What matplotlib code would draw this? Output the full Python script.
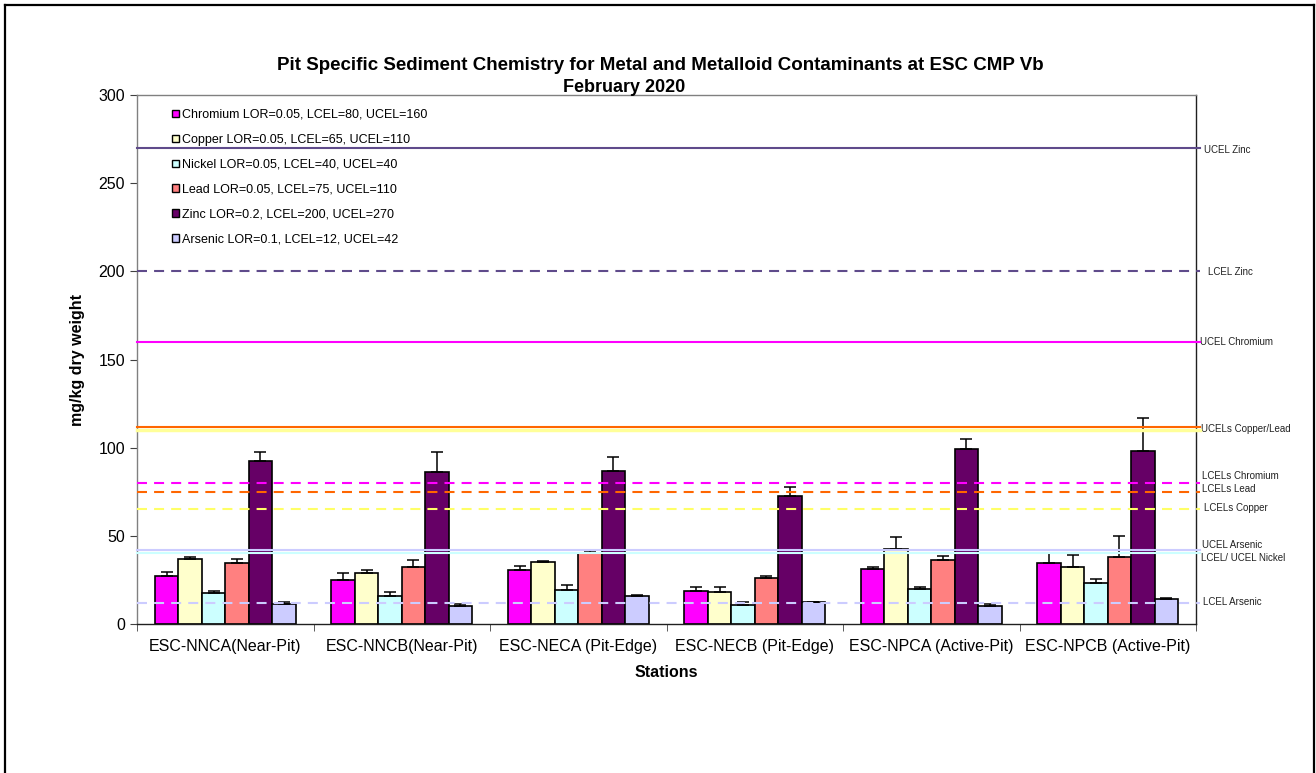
import matplotlib
matplotlib.use("Agg")
import matplotlib.pyplot as plt
import numpy as np
from matplotlib.lines import Line2D
from matplotlib.patches import Patch

plt.rcParams["font.family"] = ["Liberation Sans", "DejaVu Sans"]

STATIONS = [
    "ESC-NNCA(Near-Pit)",
    "ESC-NNCB(Near-Pit)",
    "ESC-NECA (Pit-Edge)",
    "ESC-NECB (Pit-Edge)",
    "ESC-NPCA (Active-Pit)",
    "ESC-NPCB (Active-Pit)",
]

METALS = ["Chromium", "Copper", "Nickel", "Lead", "Zinc", "Arsenic"]
LEGEND_LABELS = [
    "Chromium LOR=0.05, LCEL=80, UCEL=160",
    "Copper LOR=0.05, LCEL=65, UCEL=110",
    "Nickel LOR=0.05, LCEL=40, UCEL=40",
    "Lead LOR=0.05, LCEL=75, UCEL=110",
    "Zinc LOR=0.2, LCEL=200, UCEL=270",
    "Arsenic LOR=0.1, LCEL=12, UCEL=42",
]
BAR_COLORS = ["#ff00ff", "#ffffcc", "#ccffff", "#ff8080", "#660066", "#ccccff"]

# mean concentration per station (mg/kg), one list per metal
chromium = [27.4, 24.8, 30.4, 18.9, 31.4, 34.4]
copper = [37.0, 28.7, 35.0, 18.3, 42.4, 32.5]
nickel = [17.8, 15.9, 19.5, 10.8, 19.9, 23.4]
lead = [34.8, 32.3, 40.5, 26.1, 36.1, 38.0]
zinc = [92.4, 86.0, 87.0, 72.8, 99.1, 98.1]
arsenic = [11.5, 10.4, 15.9, 12.3, 10.4, 14.2]

# upper error (std dev) per station
chromium_err = [2.3, 3.9, 2.5, 1.9, 1.1, 6.0]
copper_err = [1.2, 2.1, 0.9, 2.9, 6.8, 6.4]
nickel_err = [1.1, 2.3, 2.4, 1.7, 0.9, 2.3]
lead_err = [1.9, 4.0, 1.0, 1.3, 2.3, 11.7]
zinc_err = [5.3, 11.4, 7.5, 4.9, 5.7, 18.6]
arsenic_err = [1.0, 1.1, 0.5, 0.4, 0.9, 0.4]

VALUES = [chromium, copper, nickel, lead, zinc, arsenic]
ERRORS = [chromium_err, copper_err, nickel_err, lead_err, zinc_err, arsenic_err]

# guideline levels as drawn: (value, colour, style, width)
GUIDES = [
    (270, "#5f4b8b", "solid", 1.5),
    (200, "#5f4b8b", "dashed", 1.5),
    (160, "#ff00ff", "solid", 1.5),
    (110, "#ffff99", "solid", 2.5),
    (111.5, "#ff6600", "solid", 1.5),
    (80, "#ff00ff", "dashed", 1.5),
    (75, "#ff6600", "dashed", 1.5),
    (65, "#ffff66", "dashed", 1.5),
    (40, "#ccffff", "solid", 1.5),
    (42, "#ccccff", "solid", 1.5),
    (12, "#ccccff", "dashed", 1.5),
]

GUIDE_LABELS = [
    ("UCEL Zinc", 268.8, 1.008),
    ("LCEL Zinc", 199.8, 1.011),
    ("UCEL Chromium", 160.1, 1.004),
    ("UCELs Copper/Lead", 110.6, 1.005),
    ("LCELs Chromium", 84.1, 1.006),
    ("LCELs Lead", 76.4, 1.006),
    ("LCELs Copper", 66.0, 1.008),
    ("UCEL Arsenic", 44.8, 1.006),
    ("LCEL/ UCEL Nickel", 37.3, 1.005),
    ("LCEL Arsenic", 12.6, 1.007),
]

fig = plt.figure(figsize=(13.16, 7.73), dpi=100)
ax = fig.add_axes([137 / 1316, 149 / 773, 1059 / 1316, 529 / 773])

x = np.arange(len(STATIONS))
width = 0.133
for i, (vals, errs, col) in enumerate(zip(VALUES, ERRORS, BAR_COLORS)):
    pos = x + (i - 2.5) * width
    ax.bar(pos, vals, width, color=col, edgecolor="black", linewidth=1.2, zorder=2)
    ax.errorbar(pos, vals, yerr=[np.zeros(len(vals)), errs], fmt="none",
                ecolor="black", elinewidth=1.1, capsize=4, capthick=1.1, zorder=3)

for val, col, style, lw in GUIDES:
    ls = (0, (4.8, 3.4)) if style == "dashed" else "-"
    ax.axhline(val, xmin=0, xmax=1.004, color=col, linestyle=ls, linewidth=lw,
               zorder=4, clip_on=False)

for text, yv, xa in GUIDE_LABELS:
    ax.text(xa, yv, text, transform=ax.get_yaxis_transform(), fontsize=7,
            ha="left", va="center", color="#222222")

ax.set_xlim(-0.5, len(STATIONS) - 0.5)
ax.set_ylim(0, 300)
ax.set_yticks(np.arange(0, 301, 50))
ax.set_xticks(x)
ax.set_xticklabels(STATIONS, fontsize=11.5)
ax.set_xticks(np.arange(-0.5, len(STATIONS)), minor=True)
ax.tick_params(axis="x", which="major", length=0, pad=11)
ax.tick_params(axis="x", which="minor", length=5, direction="out", color="#404040")
ax.tick_params(axis="y", labelsize=11.5, length=5, direction="out", color="#404040")

ax.set_xlabel("Stations", fontsize=11.5, fontweight="bold", labelpad=8)
ax.set_ylabel("mg/kg dry weight", fontsize=11.5, fontweight="bold", labelpad=10)

for side in ["left", "top"]:
    ax.spines[side].set_color("#808080")
for side in ["right", "bottom"]:
    ax.spines[side].set_color("#202020")
for sp in ax.spines.values():
    sp.set_linewidth(1.0)

handles = [Patch(facecolor=c, edgecolor="black", linewidth=1.0) for c in BAR_COLORS]
leg = ax.legend(handles, LEGEND_LABELS, loc="upper left",
                bbox_to_anchor=(0.028, 0.983), frameon=False, fontsize=9,
                handlelength=0.55, handleheight=0.55, handletextpad=0.25,
                labelspacing=1.03, borderaxespad=0)

fig.text(660 / 1316, 1 - 65 / 773,
         "Pit Specific Sediment Chemistry for Metal and Metalloid Contaminants at ESC CMP Vb",
         ha="center", va="center", fontsize=13.5, fontweight="bold")
fig.text(624 / 1316, 1 - 87 / 773, "February 2020",
         ha="center", va="center", fontsize=13, fontweight="bold")

# outer frame of the chart object
for xs, ys in [([4.5, 4.5], [0, 768]), ([4.5, 1313.5], [768, 768]),
               ([1313.5, 1313.5], [0, 768])]:
    fig.add_artist(Line2D(np.array(xs) / 1316, np.array(ys) / 773,
                          color="black", linewidth=1.6))

fig.savefig("out.png", dpi=100)
